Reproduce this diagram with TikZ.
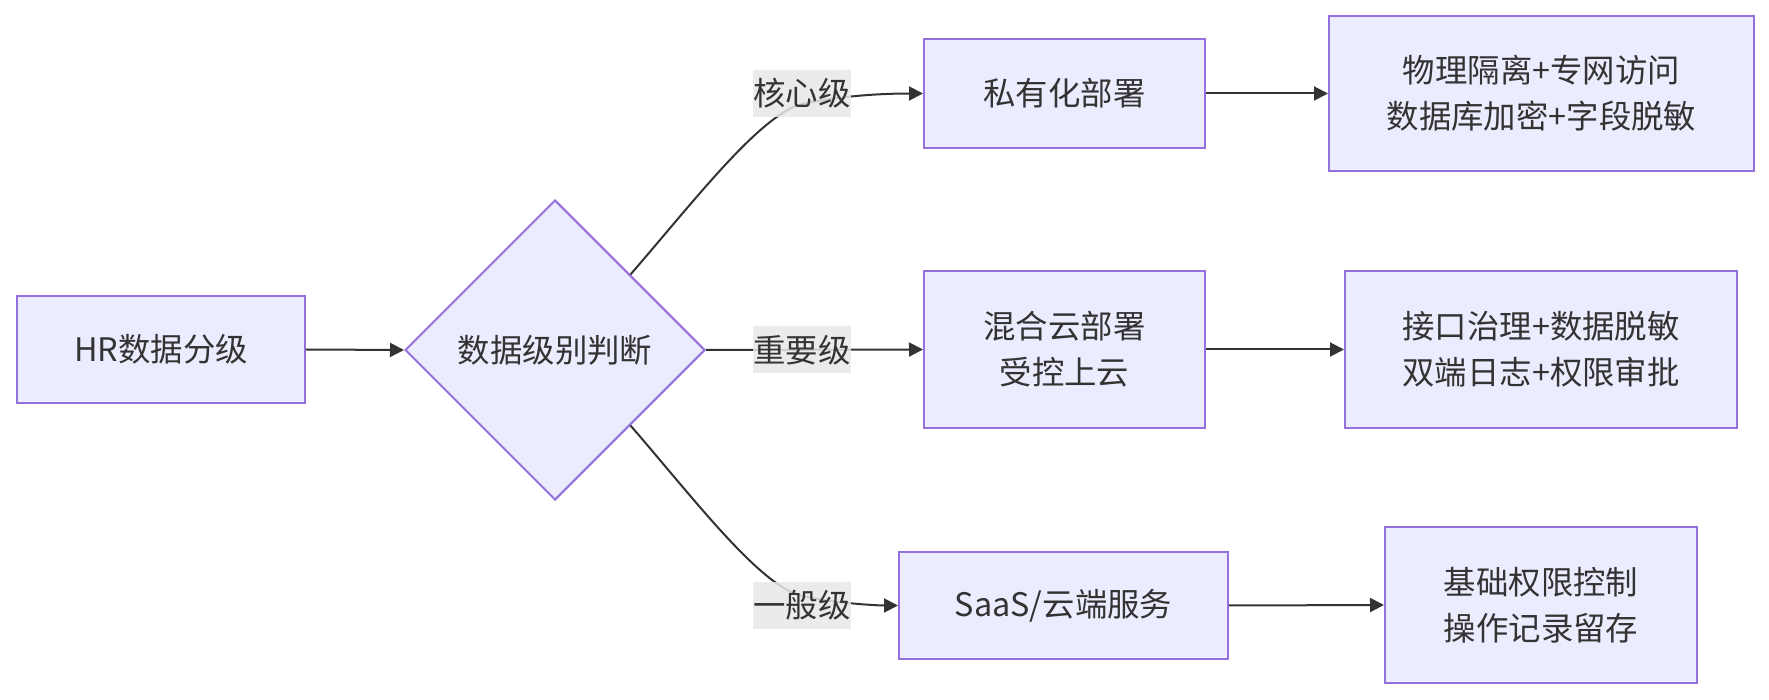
\documentclass[tikz,border=0pt]{standalone}
\usepackage{fontspec}
\setmainfont{Noto Sans CJK SC}
\usetikzlibrary{shapes.geometric,arrows.meta}
\definecolor{boxfill}{HTML}{ECECFF}
\definecolor{boxdraw}{HTML}{9370DB}
\definecolor{txt}{HTML}{333333}
\definecolor{edge}{HTML}{333333}
\definecolor{lblbg}{HTML}{E8E8E8}
\tikzset{
  box/.style={draw=boxdraw, fill=boxfill, line width=1pt, inner sep=0pt, align=center, text=txt},
  decision/.style={diamond, aspect=1, draw=boxdraw, fill=boxfill, line width=1pt, inner sep=0pt, minimum width=150pt, minimum height=150pt, text=txt},
  lbl/.style={fill=lblbg, fill opacity=0.85, text opacity=1, text=txt, inner xsep=0pt, inner ysep=0pt, minimum height=23.5pt},
  conn/.style={draw=edge, line width=1pt, -{Triangle[length=7pt,width=7pt]}},
}
\begin{document}
\begin{tikzpicture}[x=0.5pt, y=-0.5pt, font=\fontsize{16.2pt}{23pt}\selectfont]
\useasboundingbox (0,0) rectangle (1769,700);
\node[box, minimum width=144pt, minimum height=53.5pt] (hr) at (161,349.5) {HR数据分级};
\node[decision] (d) at (555,350) {数据级别判断};
\node[box, minimum width=140.5pt, minimum height=54.5pt] (p1) at (1064.5,93.5) {私有化部署};
\node[box, minimum width=212.5pt, minimum height=77.5pt] (p2) at (1541.5,93.5) {物理隔离+专网访问\\数据库加密+字段脱敏};
\node[box, minimum width=140.5pt, minimum height=78.5pt] (m1) at (1064.5,349.5) {混合云部署\\受控上云};
\node[box, minimum width=196pt, minimum height=78.5pt] (m2) at (1541,349.5) {接口治理+数据脱敏\\双端日志+权限审批};
\node[box, minimum width=164.5pt, minimum height=53.5pt] (s1) at (1063.5,605.5) {SaaS/云端服务};
\node[box, minimum width=156pt, minimum height=78pt] (s2) at (1541,605) {基础权限控制\\操作记录留存};
\coordinate (k1) at (802,104);
\coordinate (k3) at (802,596);
\draw[conn] (hr.east) -- (d.west);
\draw[conn] (d.north east) .. controls (695,200) and (760,115) .. (k1) .. controls (840,96) and (880,93.5) .. (p1.west);
\draw[conn] (d.east) -- (m1.west);
\draw[conn] (d.south east) .. controls (695,500) and (760,586) .. (k3) .. controls (840,604) and (880,605.5) .. (s1.west);
\draw[conn] (p1.east) -- (p2.west);
\draw[conn] (m1.east) -- (m2.west);
\draw[conn] (s1.east) -- (s2.west);
\node[lbl] (l1) at (802,93.5) {核心级};
\node[lbl] (l2) at (802,350) {重要级};
\node[lbl] (l3) at (802,605) {一般级};
\end{tikzpicture}
\end{document}
